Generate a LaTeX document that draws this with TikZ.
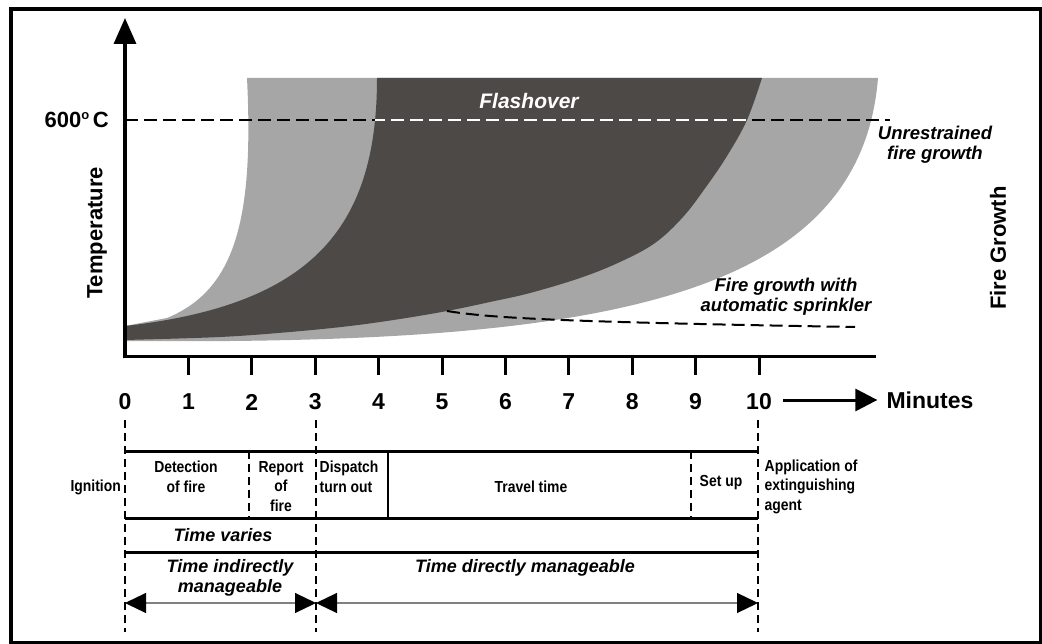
\documentclass[tikz,border=0pt]{standalone}
\usepackage{fontspec}
\setmainfont{Liberation Sans}
\newfontfamily\narrowfont[FakeStretch=0.87]{Liberation Sans}
\usetikzlibrary{arrows.meta}
\definecolor{lgray}{RGB}{166,166,166}
\definecolor{dgray}{RGB}{77,73,71}
\def\darkregion{(125,326) .. controls (310,305) and (377,230) .. (377,78) -- (762,78)
  -- plot[smooth, tension=0.6] coordinates {(762,78) (747,120) (727,156) (706,187) (683,217) (655,243) (620,262) (580,278) (530,293) (490,302) (447,311) (400,319) (350,326) (290,332) (220,337) (125,340)} -- cycle}
\begin{document}
\begin{tikzpicture}[x=1pt,y=-1pt,
  axisline/.style={line width=3pt},
  dashsix/.style={line width=2pt, dash pattern=on 13pt off 6pt},
  bigbold/.style={font=\fontsize{22}{26}\selectfont\bfseries, inner sep=0pt},
  numlbl/.style={font=\fontsize{23}{26}\selectfont\bfseries, inner sep=0pt},
  curvelbl/.style={font=\fontsize{18.5}{20}\selectfont\bfseries\itshape, align=center, inner sep=0pt},
  timelbl/.style={font=\fontsize{18}{20}\selectfont\bfseries\itshape, align=center, inner sep=0pt},
  smalllbl/.style={font=\narrowfont\fontsize{16}{19.5}\selectfont\bfseries, inner sep=0pt},
  barline/.style={line width=3pt},
  vdash/.style={line width=1.4pt, dash pattern=on 8pt off 5pt},
  divider/.style={line width=1.4pt},
  span/.style={line width=1.2pt, gray, {Triangle[length=21pt,width=20pt,color=black]}-{Triangle[length=21pt,width=20pt,color=black]}}
]
\useasboundingbox (0,0) rectangle (1042,644);
\draw[line width=3.5pt] (11,9) rectangle (1040.5,642.3);

% light grey band
\fill[lgray] (125,341) .. controls (600,345) and (860,300) .. (878,78) -- (247,78)
  .. controls (254,220) and (235,290) .. (167,318) -- (125,326) -- cycle;
% dark band
\fill[dgray] \darkregion;

% 600 C line
\draw[dashsix] (125,120) -- (890,120);
\begin{scope}
  \clip \darkregion;
  \draw[dashsix, white] (125,120) -- (890,120);
\end{scope}

% sprinkler curve
\coordinate (sp0) at (447,311);
\coordinate (sp1) at (855,327);
\draw[dashsix] (sp0) .. controls (490,318) and (560,322) .. (sp1);

% axes
\coordinate (ytop) at (125,18);
\coordinate (xend) at (876,357);
\draw[line width=3.5pt, -{Triangle[length=26pt,width=22pt]}] (125,358.5) -- (ytop);
\draw[axisline] (123.5,357) -- (xend);
\foreach \k in {1,...,10} \draw[axisline] (125+63.4*\k,357) -- (125+63.4*\k,375);
\foreach \k in {0,...,10} \node[numlbl] (n\k) at (125+63.4*\k,402) {\k};

\node[numlbl] (minutes) at (930,400) {Minutes};
\coordinate (ma) at (783,400);
\draw[line width=3pt, -{Triangle[length=22pt,width=22pt]}] (ma) -- ([xshift=-9pt]minutes.west);

% labels of the chart
\node[bigbold, anchor=east] (t600) at (109,120) {600\raisebox{8pt}{\fontsize{13}{13}\selectfont o}\,C};
\node[bigbold, rotate=90] (temp) at (97,233) {Temperature};
\node[bigbold, rotate=90] (fgrow) at (998,248) {Fire Growth};
\node[font=\fontsize{21}{24}\selectfont\bfseries\itshape, white, inner sep=0pt] (flash) at (529,101) {Flashover};
\node[curvelbl] (unr) at (935,145) {Unrestrained\\fire growth};
\node[curvelbl] (spr) at (786,297) {Fire growth with\\automatic sprinkler};

% time marks
\coordinate (a0) at (125,420);
\coordinate (b0) at (125,632);
\coordinate (a3) at (316,420);
\coordinate (b3) at (316,632);
\coordinate (a10) at (758,420);
\coordinate (b10) at (758,632);
\draw[vdash] (a0) -- (b0);
\draw[vdash] (a3) -- (b3);
\draw[vdash] (a10) -- (b10);

% bars
\draw[barline] (125,451) -- (758,451);
\draw[barline] (125,518) -- (758,518);
\draw[barline] (125,552) -- (758,552);
\draw[vdash] (249,451) -- (249,518);
\draw[vdash] (691,451) -- (691,518);
\draw[divider] (388,451) -- (388,518);

\node[smalllbl, anchor=east] (ign) at (121,487) {Ignition};
\node[smalllbl, align=center] (det) at (186,477) {Detection\\of fire};
\node[smalllbl, align=center] (rep) at (281,486.5) {Report\\of\\fire};
\node[smalllbl, align=left, anchor=west] (disp) at (319.5,477) {Dispatch\\turn out};
\node[smalllbl] (trav) at (531,487) {Travel time};
\node[smalllbl] (setup) at (721,483) {Set up};
\node[smalllbl, align=left, anchor=west] (appl) at (764.5,486.5) {Application of\\extinguishing\\agent};

\node[timelbl] (tvar) at (223,535) {Time varies};
\node[timelbl] (tind) at (230,578) {Time indirectly\\manageable};
\node[timelbl] (tdir) at (525,568) {Time directly manageable};

\coordinate (s0) at (125,603);
\coordinate (s3) at (316,603);
\coordinate (s10) at (758,603);
\draw[span] (s0) -- (s3);
\draw[span] (s3) -- (s10);
\end{tikzpicture}
\end{document}
